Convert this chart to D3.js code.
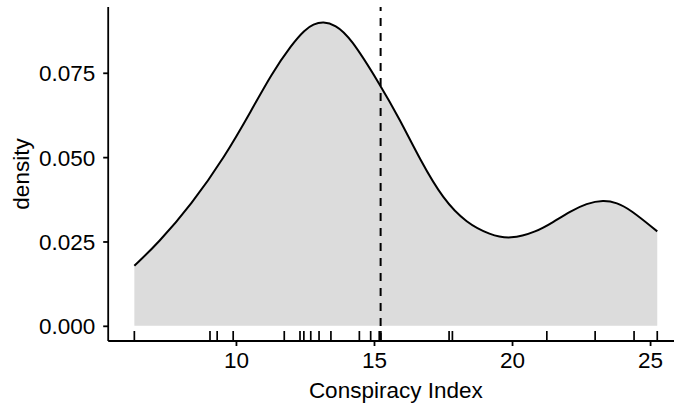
<!DOCTYPE html>
<html>
<head>
<meta charset="utf-8">
<script src="https://cdn.jsdelivr.net/npm/d3@7"></script>
<style>
  html, body { margin: 0; padding: 0; background: #fff; }
  svg { display: block; }
  text { font-family: "Liberation Sans", Arial, Helvetica, sans-serif; fill: #000; }
</style>
</head>
<body>
<svg id="chart" width="674" height="403"></svg>
<script>
// Density curve
const densityX = [6.32, 7.18, 8.39, 9.60, 10.57, 11.29, 12.02, 12.50, 12.80, 13.16, 13.60, 14.13, 15.22, 15.94, 16.67, 17.51, 18.36, 19.20, 19.93, 20.89, 21.50, 22.10, 22.70, 23.31, 23.80, 24.28, 25.26];
const densityY = [0.0178, 0.0245, 0.0360, 0.0502, 0.0640, 0.0747, 0.0834, 0.0878, 0.0894, 0.0902, 0.0892, 0.0857, 0.0715, 0.0611, 0.0492, 0.0374, 0.0304, 0.0270, 0.0256, 0.0279, 0.0308, 0.0339, 0.0363, 0.0373, 0.0365, 0.0345, 0.0280];
// Rug observations
const rugValues = [6.32, 9.06, 9.32, 9.90, 11.75, 12.32, 12.46, 12.71, 13.01, 13.44, 14.47, 14.88, 15.19, 15.25, 17.72, 17.84, 21.26, 23.01, 24.42, 25.26];
// Mean reference line
const meanValue = 15.24;
// Ticks
const xTicks = [10, 15, 20, 25];
const yTicks = [0, 0.025, 0.050, 0.075];
const xLabel = "Conspiracy Index";
const yLabel = "density";

const svg = d3.select("#chart");
const panel = { left: 108.2, right: 683.4, top: 7, bottom: 341 };

const xMin = d3.min(densityX), xMax = d3.max(densityX);
const xPad = (xMax - xMin) * 0.05;
const x = d3.scaleLinear().domain([xMin - xPad, xMax + xPad]).range([panel.left, panel.right]);
const yMax = 0.0900; // peak of the drawn density
const yPad = yMax * 0.05;
const y = d3.scaleLinear().domain([-yPad, yMax + yPad]).range([panel.bottom, panel.top]);

const pts = densityX.map((d, i) => [d, densityY[i]]);
const curve = d3.curveBasis;

// filled area
svg.append("path")
  .datum(pts)
  .attr("fill", "#dcdcdc")
  .attr("d", d3.area().x(d => x(d[0])).y0(y(0)).y1(d => y(d[1])).curve(curve));

// upper outline
svg.append("path")
  .datum(pts)
  .attr("fill", "none")
  .attr("stroke", "#000")
  .attr("stroke-width", 2)
  .attr("d", d3.line().x(d => x(d[0])).y(d => y(d[1])).curve(curve));

// mean dashed line
svg.append("line")
  .attr("x1", x(meanValue)).attr("x2", x(meanValue))
  .attr("y1", panel.bottom).attr("y2", panel.top)
  .attr("stroke", "#000").attr("stroke-width", 2)
  .attr("stroke-dasharray", "8,7");

// rug
const rugLen = (panel.bottom - panel.top) * 0.03;
svg.append("g").selectAll("line").data(rugValues).join("line")
  .attr("x1", d => x(d)).attr("x2", d => x(d))
  .attr("y1", panel.bottom).attr("y2", panel.bottom - rugLen)
  .attr("stroke", "#000").attr("stroke-width", 1.7);

// x axis
const xAxis = svg.append("g").attr("transform", `translate(0,${panel.bottom})`)
  .call(d3.axisBottom(x).tickValues(xTicks).tickSize(5).tickPadding(6).tickFormat(d3.format("d")));
xAxis.select(".domain").attr("d", `M${panel.left},0H${panel.right}`).attr("stroke-width", 1.8);
xAxis.selectAll(".tick line").attr("stroke-width", 1.8);
xAxis.selectAll("text").attr("font-size", 22.5).attr("font-family", null).attr("fill", "#000");

// y axis
const yAxis = svg.append("g").attr("transform", `translate(${panel.left},0)`)
  .call(d3.axisLeft(y).tickValues(yTicks).tickSize(5).tickPadding(8).tickFormat(d3.format(".3f")));
yAxis.select(".domain").attr("d", `M0,${panel.bottom}V${panel.top}`).attr("stroke-width", 1.8);
yAxis.selectAll(".tick line").attr("stroke-width", 1.8);
yAxis.selectAll("text").attr("font-size", 22.5).attr("font-family", null).attr("fill", "#000").attr("dy", "0.36em");

// axis titles
svg.append("text")
  .attr("x", (panel.left + panel.right) / 2)
  .attr("y", 397.5)
  .attr("text-anchor", "middle")
  .attr("font-size", 22.5)
  .text(xLabel);

svg.append("text")
  .attr("transform", `translate(28.5,${(panel.top + panel.bottom) / 2}) rotate(-90)`)
  .attr("text-anchor", "middle")
  .attr("font-size", 22.5)
  .text(yLabel);
</script>
</body>
</html>
